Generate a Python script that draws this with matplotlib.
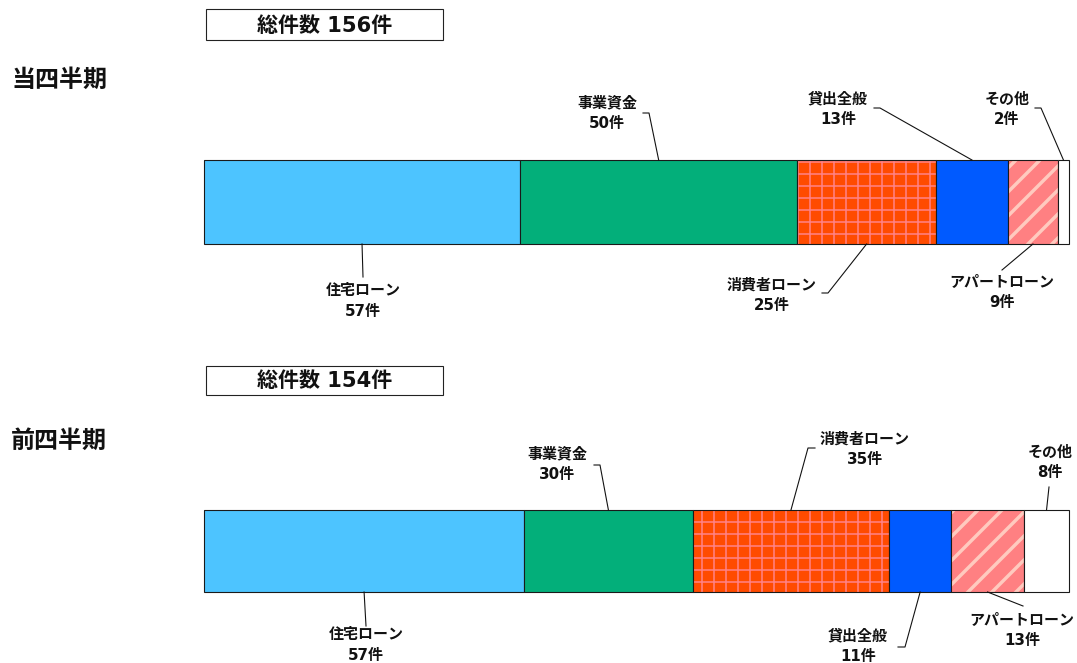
import matplotlib
matplotlib.use("Agg")
import matplotlib.pyplot as plt
from matplotlib.lines import Line2D
from matplotlib.patches import Rectangle

# Latin digits from DejaVu Sans, Japanese glyphs fall back to Noto Sans CJK JP
plt.rcParams['font.family'] = ['DejaVu Sans', 'Noto Sans CJK JP']

# ---- data -------------------------------------------------------------
categories = ['住宅ローン', '事業資金', '消費者ローン', '貸出全般', 'アパートローン', 'その他']
current_counts = [57, 50, 25, 13, 9, 2]
previous_counts = [57, 30, 35, 11, 13, 8]
period_titles = ['当四半期', '前四半期']
unit = '件'

# ---- styles -----------------------------------------------------------
face_colors = ['#4DC4FF', '#03AF7A', '#FF4B00', '#005AFF', '#FF8082', '#FFFFFF']
hatch_colors = [None, None, '#FF8082', None, '#FFCABF', None]
hatch_styles = [None, None, '+', None, '/', None]
hatch_widths = [None, None, 1.6, None, 3.4, None]

W, H, DPI = 1077, 663, 72
fig = plt.figure(figsize=(W / DPI, H / DPI), dpi=DPI)


def fpos(x, y):
    """pixel position (from top-left) -> figure fraction"""
    return x / W, 1 - y / H


# layout per panel: bar top/bottom (px), title y, total box top/bottom,
# and label placement: side, leader path points, text centre
panels = [
    dict(counts=current_counts, bar=(160, 244), title_y=80, box=(9, 40),
         labels=[
             ('bottom', [(363, 277)], (363, 301)),
             ('top', [(649, 113), (643, 113)], (607, 113)),
             ('bottom', [(828, 293), (822, 293)], (772, 295)),
             ('top', [(880, 108), (874, 108)], (838, 109)),
             ('bottom', [(1002, 270)], (1002, 292)),
             ('top', [(1041, 108), (1035, 108)], (1007, 109)),
         ]),
    dict(counts=previous_counts, bar=(510, 592), title_y=441, box=(366, 395),
         labels=[
             ('bottom', [(366, 626)], (366, 645)),
             ('top', [(600, 465), (594, 465)], (557, 464)),
             ('top', [(808, 448), (815, 448)], (865, 449)),
             ('bottom', [(905, 647), (898, 647)], (858, 646)),
             ('bottom', [(1023, 606)], (1022, 630)),
             ('top', [(1049, 487)], (1050, 462)),
         ]),
]

bar_left, bar_right = 204, 1069

for title, panel in zip(period_titles, panels):
    counts = panel['counts']
    total = sum(counts)
    y0, y1 = panel['bar']
    ax = fig.add_axes([bar_left / W, 1 - y1 / H, (bar_right - bar_left) / W, (y1 - y0) / H])
    ax.set_xlim(0, total)
    ax.set_ylim(0, 1)
    ax.axis('off')

    lefts = []
    acc = 0
    for c in counts:
        lefts.append(acc)
        acc += c

    for i, c in enumerate(counts):
        if hatch_styles[i]:
            bars = ax.barh(0.5, c, left=lefts[i], height=1, color=face_colors[i],
                           edgecolor=hatch_colors[i], linewidth=0, hatch=hatch_styles[i])
            p = bars.patches[0]
            if hasattr(p, 'set_hatch_linewidth'):
                p.set_hatch_linewidth(hatch_widths[i])
        else:
            ax.barh(0.5, c, left=lefts[i], height=1, color=face_colors[i], linewidth=0)
        ax.barh(0.5, c, left=lefts[i], height=1, fill=False,
                edgecolor='#1a1a1a', linewidth=1.1, clip_on=False)

    # leader lines and labels
    inv = fig.transFigure.inverted()
    for i, (side, path, tpos) in enumerate(panel['labels']):
        xc = lefts[i] + counts[i] / 2
        ya = 1 if side == 'top' else 0
        disp = ax.transData.transform((xc, 0))
        dy = ax.transAxes.transform((0, ya))
        start = inv.transform((disp[0], dy[1]))
        pts = [tuple(start)] + [fpos(*p) for p in path]
        xs = [p[0] for p in pts]
        ys = [p[1] for p in pts]
        fig.add_artist(Line2D(xs, ys, color='#111111', linewidth=1.1,
                              transform=fig.transFigure))
        fig.text(*fpos(*tpos), f'{categories[i]}\n{counts[i]}{unit}',
                 ha='center', va='center', fontsize=15, fontweight='bold',
                 linespacing=1.42, color='#111111')

    # period title
    fig.text(*fpos(11, panel['title_y']), title, ha='left', va='center',
             fontsize=24, fontweight='bold', color='#111111')

    # total box
    b0, b1 = panel['box']
    bx0, bx1 = 206, 443
    fig.add_artist(Rectangle(fpos(bx0, b1), (bx1 - bx0) / W, (b1 - b0) / H,
                             transform=fig.transFigure, fill=False,
                             edgecolor='#222222', linewidth=1.1))
    fig.text(*fpos((bx0 + bx1) / 2, (b0 + b1) / 2 + 1), f'総件数 {total}{unit}',
             ha='center', va='center', fontsize=21, fontweight='bold', color='#111111')

fig.savefig('out.png', dpi=DPI)
